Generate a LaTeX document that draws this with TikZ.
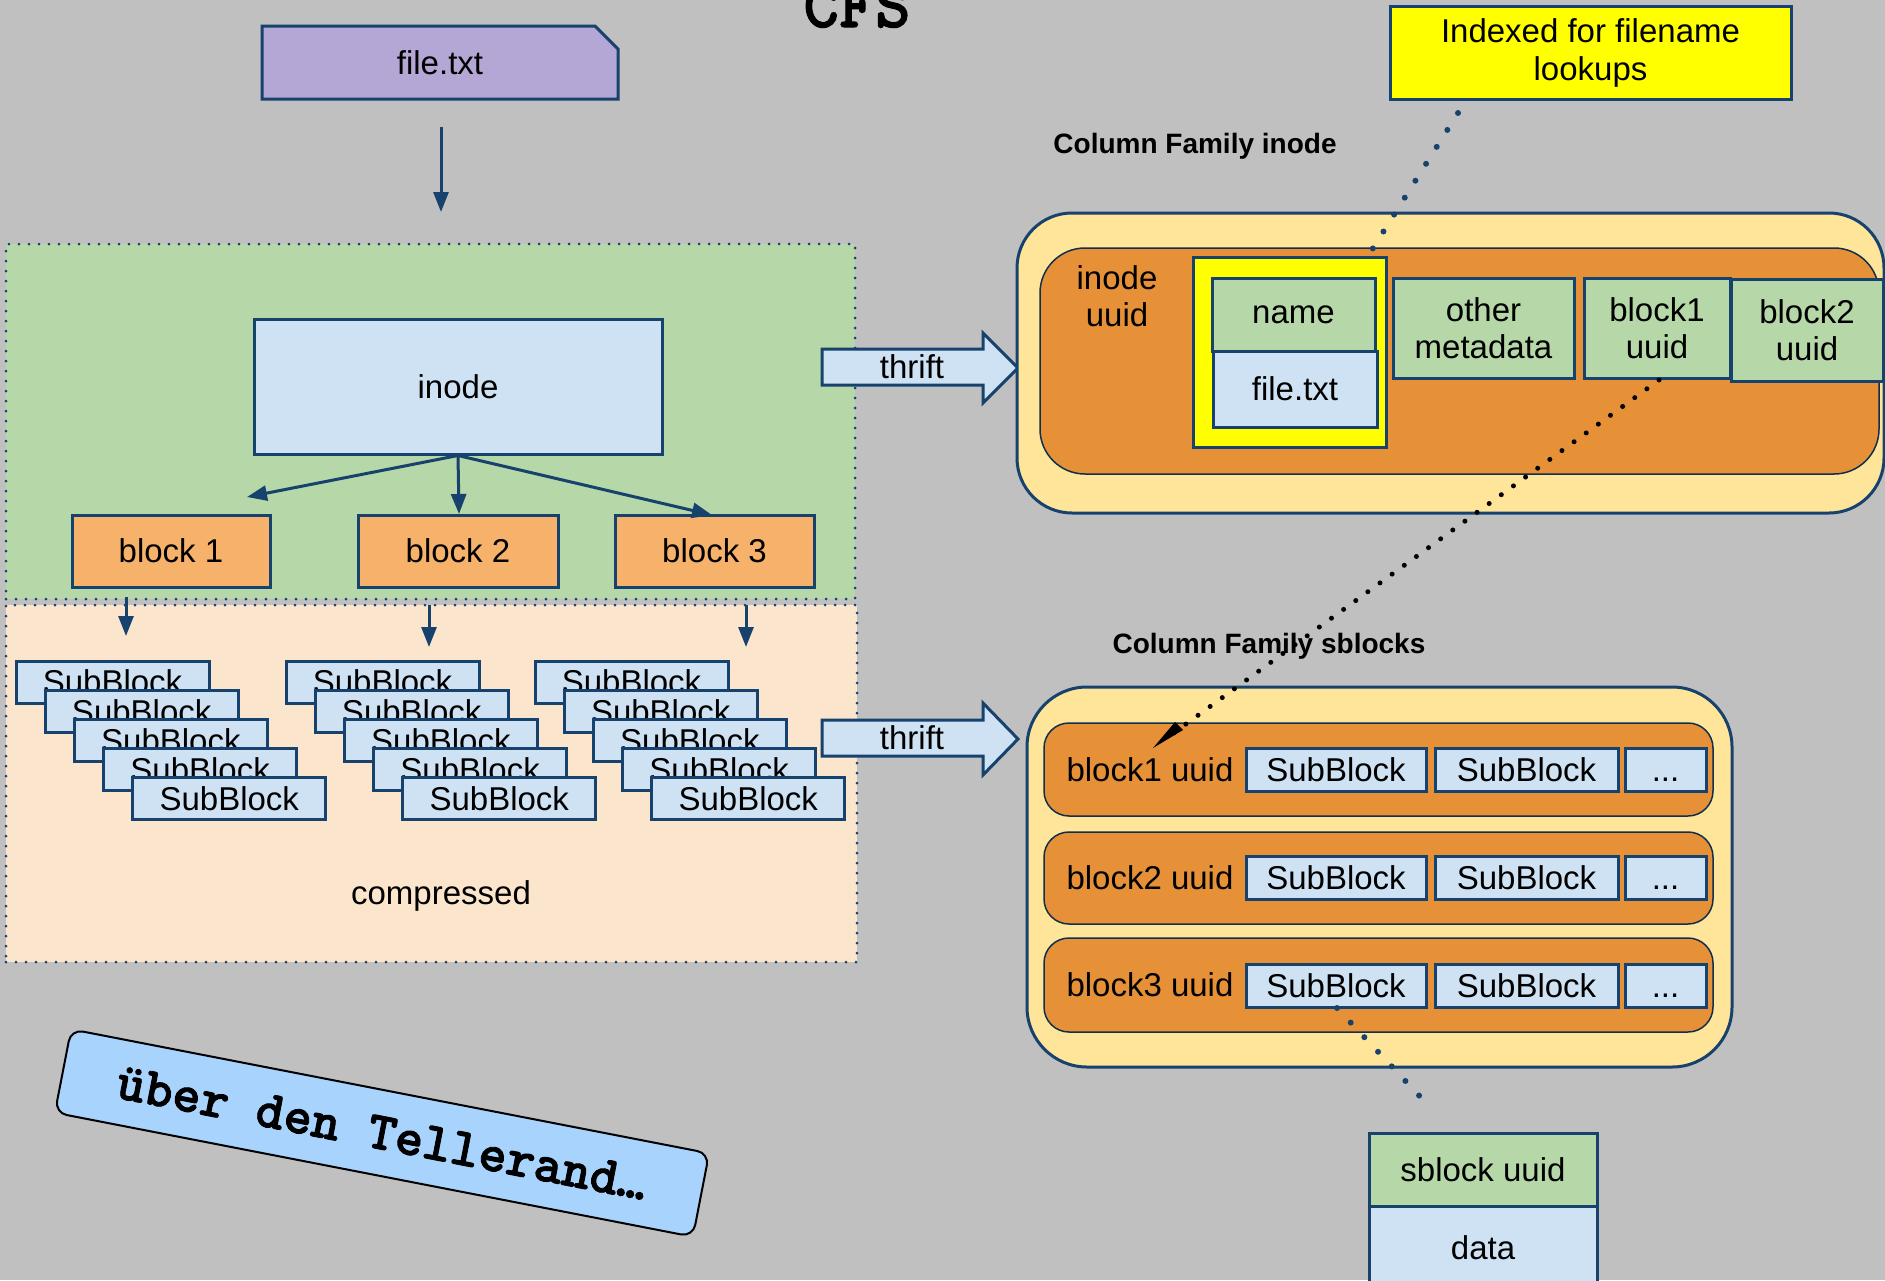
\documentclass[tikz,border=0pt]{standalone}
\usepackage{fontspec}
\setmainfont{Liberation Sans}
\newfontfamily\courb{lmmonolt10-bold.otf}[FakeBold=1.5]
\usetikzlibrary{arrows.meta,shapes.misc,calc}
\definecolor{bgc}{HTML}{C0C0C0}
\definecolor{bord}{HTML}{17426E}
\definecolor{lav}{HTML}{B4A7D6}
\definecolor{grn}{HTML}{B6D7A8}
\definecolor{lblue}{HTML}{CFE2F3}
\definecolor{lorange}{HTML}{F6B26B}
\definecolor{peach}{HTML}{FCE5CD}
\definecolor{lyellow}{HTML}{FFE599}
\definecolor{dorange}{HTML}{E69138}
\definecolor{yel}{HTML}{FFFF00}
\definecolor{skyb}{HTML}{A7D3FD}
\begin{document}
\begin{tikzpicture}[x=1pt,y=-1pt,
  txt/.style={font=\fontsize{33}{37}\selectfont},
  bx/.style={draw=bord,line width=3,inner sep=0pt,txt,align=center},
  dotbox/.style={draw=bord,line width=3,line cap=round,dash pattern=on 0pt off 10pt,inner sep=0pt},
  conn/.style={draw=bord,line width=3,-{Triangle[length=20,width=15]}},
  bluedots/.style={draw=bord,line width=6,line cap=round,dash pattern=on 0pt off 20pt},
  blackdots/.style={draw=black,line width=5,line cap=round,dash pattern=on 0pt off 15pt},
  rrow/.style={draw=bord!70!black,line width=1.5,fill=dorange,inner sep=0pt},
  lbl/.style={font=\fontsize{28}{32}\selectfont\bfseries},
  thr/.style={draw=bord,line width=3,fill=lblue,line join=miter}
]
\useasboundingbox (0,0) rectangle (1885,1280);
\fill[bgc] (0,0) rectangle (1885,1280);

% title
\node[anchor=base,font=\courb\fontsize{68}{74}\selectfont,inner sep=0pt] (title) at (857,27) {CFS};

% file.txt
\node[bx,fill=lav,chamfered rectangle,chamfered rectangle corners=north east,
  chamfered rectangle xsep=11pt,chamfered rectangle ysep=12pt,
  minimum width=356,minimum height=73] (file) at (440,62.5) {file.txt};
\coordinate (fa) at (441,127);
\coordinate (fb) at (441,212);

% left containers
\node[dotbox,fill=grn,minimum width=849,minimum height=355] (green) at (430.5,421.5) {};
\node[dotbox,fill=peach,minimum width=851,minimum height=357] (peachbox) at (431.5,783.5) {};
\draw[conn] (fa) -- (fb);

\node[bx,fill=lblue,minimum width=408,minimum height=135] (inode) at (458,386.5) {inode};
\node[bx,fill=lorange,minimum width=198,minimum height=72] (b1) at (171,551) {block 1};
\node[bx,fill=lorange,minimum width=200,minimum height=72] (b2) at (458,551) {block 2};
\node[bx,fill=lorange,minimum width=199,minimum height=72] (b3) at (714.5,551) {block 3};

\coordinate (ti1) at (247,497);
\coordinate (ti2) at (459,514);
\coordinate (ti3) at (712,515);
\draw[conn] (inode.south) -- (ti1);
\draw[conn] (inode.south) -- (ti2);
\draw[conn] (inode.south) -- (ti3);

\coordinate (s1a) at (126,597); \coordinate (s1b) at (126,636);
\coordinate (s2a) at (429,605); \coordinate (s2b) at (429,647);
\coordinate (s3a) at (746,605); \coordinate (s3b) at (746,647);
\draw[conn] (s1a) -- (s1b);
\draw[conn] (s2a) -- (s2b);
\draw[conn] (s3a) -- (s3b);

% subblock stacks
\foreach \gx/\g in {16/a,286/b,535/c}{
  \foreach \k in {0,...,4}{
    \node[bx,fill=lblue,minimum width=193,minimum height=42] (sb\g\k)
      at ({\gx+96.5+29.2*\k},{682+29.2*\k}) {SubBlock};
  }
}
\node[txt] (compr) at (441,896) {compressed};

% thrift arrows
\draw[thr] (822,349) -- (983,349) -- (983,333) -- (1018,368) -- (983,403) -- (983,385) -- (822,385) -- cycle;
\node[txt,inner sep=0pt] (thr1) at (912,367) {thrift};
\draw[thr] (822,720) -- (983,720) -- (983,703) -- (1018,739) -- (983,775) -- (983,756) -- (822,756) -- cycle;
\node[txt,inner sep=0pt] (thr2) at (912,738) {thrift};

% column family inode
\node[lbl] (cfi) at (1195,146) {Column Family inode};
\node[bx,fill=yel,minimum width=401,minimum height=93,font=\fontsize{33}{38}\selectfont] (idx) at (1590.5,52.5) {Indexed for filename\\lookups};
\node[draw=bord,line width=3,fill=lyellow,rounded corners=55,minimum width=867,minimum height=300] (cfiout) at (1450.5,363) {};
\node[rrow,rounded corners=45,minimum width=839,minimum height=226] (cfiin) at (1459.5,361) {};
\node[txt,align=center,inner sep=0pt] (iuuid) at (1117,296) {inode\\uuid};
\node[bx,fill=yel,minimum width=193,minimum height=190] (nameholder) at (1289.5,352) {};
\node[bx,fill=grn,minimum width=163,minimum height=73] (name) at (1293.5,314.5) {name};
\node[bx,fill=lblue,minimum width=164,minimum height=76] (fname) at (1295,389) {file.txt};
\node[bx,fill=grn,minimum width=181,minimum height=100] (meta) at (1483.5,328) {other\\metadata};
\node[bx,fill=grn,minimum width=146,minimum height=100] (bu1) at (1657,328) {block1\\uuid};
\node[bx,fill=grn,minimum width=152,minimum height=102] (bu2) at (1807,330) {block2\\uuid};

% column family sblocks
\node[lbl] (cfs) at (1269,646) {Column Family sblocks};
\node[draw=bord,line width=3,fill=lyellow,rounded corners=60,minimum width=705,minimum height=380] (cfsout) at (1379.5,877) {};
\foreach \r/\y/\h/\by in {1/769.5/93/769.5,2/878/92/878,3/985/94/985.5}{
  \node[rrow,rounded corners=25,minimum width=669,minimum height=\h] (row\r) at (1378.5,\y) {};
  \node[txt,inner sep=0pt] (rl\r) at (1150,\y) {block\r\ uuid};
  \node[bx,fill=lblue,minimum width=180,minimum height=43] (rb\r a) at (1336,\by) {SubBlock};
  \node[bx,fill=lblue,minimum width=183,minimum height=43] (rb\r b) at (1526.5,\by) {SubBlock};
  \node[bx,fill=lblue,minimum width=81,minimum height=43] (rb\r c) at (1665.5,\by) {\vphantom{Sb}...};
}

% sblock record
\node[bx,fill=lblue,minimum width=228,minimum height=84] (data) at (1483,1248) {data};
\node[bx,fill=grn,minimum width=228,minimum height=73] (sbu) at (1483,1169.5) {sblock uuid};

% dotted links
\coordinate (d1a) at (1458,113);
\coordinate (d1b) at (1363,264);
\draw[bluedots] (d1a) -- (d1b);
\coordinate (d2a) at (1659,380);
\coordinate (d2b) at (1153,748);
\draw[blackdots] (d2a) -- ($(d2a)!0.96!(d2b)$);
\fill[black] (d2b) -- ++(22,-26) -- ++(8,8) -- cycle;
\coordinate (d3a) at (1337,1008);
\coordinate (d3b) at (1427,1104);
\draw[bluedots] (d3a) -- (d3b);

% über den Tellerand
\node[draw=black,line width=2,fill=skyb,rounded corners=12,rotate=-11,
  minimum width=650,minimum height=85,font=\courb\fontsize{54}{60}\selectfont] (ueber) at (382,1133) {über den Tellerand…};
\end{tikzpicture}
\end{document}
